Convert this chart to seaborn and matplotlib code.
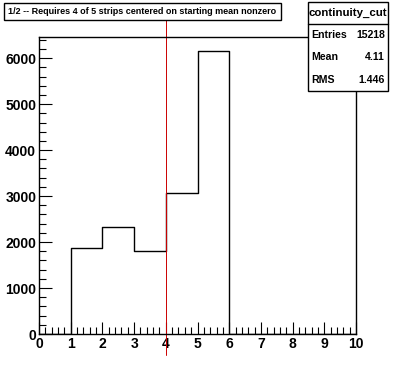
import numpy as np
import pandas as pd
import matplotlib
matplotlib.use('Agg')
import matplotlib.pyplot as plt
import seaborn as sns
from matplotlib.patches import Rectangle
from matplotlib.ticker import MultipleLocator

# ── Data ──────────────────────────────────────────────────────────────────────
bin_edges   = list(range(0, 11))
bin_centers = [1.5, 2.5, 3.5, 4.5, 5.5]
bin_counts  = [1867, 2331, 1802, 3066, 6152]
cut_value   = 4
title_text  = '1/2 -- Requires 4 of 5 strips centered on starting mean nonzero'
stats_name  = 'continuity_cut'
stats_rows  = [('Entries', '15218'), ('Mean', '4.11'), ('RMS', '1.446')]

df = pd.DataFrame({'x': bin_centers, 'w': bin_counts})

# ── Figure ────────────────────────────────────────────────────────────────────
sns.set_style('white')
plt.rcParams['font.family'] = ['Liberation Sans', 'DejaVu Sans']
plt.rcParams['text.color'] = 'black'

W, H = 396, 372
fig = plt.figure(figsize=(W / 100, H / 100), dpi=100)
ax = fig.add_axes([39 / W, 1 - 334 / H, (356 - 39) / W, (334 - 37) / H])

sns.histplot(data=df, x='x', weights='w', bins=bin_edges, element='step',
             fill=False, color='black', linewidth=1.0, ax=ax)

ymax = max(bin_counts) * 1.05
ax.set_xlim(0, 10)
ax.set_ylim(0, ymax)
ax.set_xlabel('')
ax.set_ylabel('')

ax.xaxis.set_major_locator(MultipleLocator(1))
ax.xaxis.set_minor_locator(MultipleLocator(0.2))
ax.yaxis.set_major_locator(MultipleLocator(1000))
ax.yaxis.set_minor_locator(MultipleLocator(200))
ax.tick_params(which='both', direction='in', top=False, right=False,
               bottom=True, left=True, color='black', labelcolor='black',
               width=0.8)
ax.tick_params(which='major', length=9, labelsize=10, pad=2)
ax.tick_params(which='minor', length=5)
for lab in ax.get_xticklabels() + ax.get_yticklabels():
    lab.set_fontweight('bold')

for s in ax.spines.values():
    s.set_color('black')
    s.set_linewidth(1.0)

# cut line
ax.axvline(cut_value, ymin=-0.072, ymax=1.1, color='#cc0000', lw=0.7,
           clip_on=False)

# ── Title box ─────────────────────────────────────────────────────────────────
def fx(px):
    return px / W

def fy(py):
    return 1 - py / H

fig.patches.append(Rectangle((fx(4), fy(20)), fx(281) - fx(4), fy(3) - fy(20),
                             transform=fig.transFigure, facecolor='white',
                             edgecolor='black', lw=1.0))
fig.text(fx(142.5), fy(11.5), title_text, ha='center', va='center',
         fontsize=6.5, fontweight='bold')

# ── Stats box ─────────────────────────────────────────────────────────────────
fig.patches.append(Rectangle((fx(308), fy(91)), fx(388) - fx(308), fy(2) - fy(91),
                             transform=fig.transFigure, facecolor='white',
                             edgecolor='black', lw=1.0))
fig.lines.append(plt.Line2D([fx(308), fx(388)], [fy(24), fy(24)],
                            transform=fig.transFigure, color='black', lw=1.0))
fig.text(fx(348), fy(13), stats_name, ha='center', va='center',
         fontsize=8.2, fontweight='bold')
for i, (name, val) in enumerate(stats_rows):
    yy = fy(35 + i * 22.5)
    fig.text(fx(311), yy, name, ha='left', va='center', fontsize=7.6,
             fontweight='bold')
    fig.text(fx(385), yy, val, ha='right', va='center', fontsize=7.6,
             fontweight='bold')

fig.savefig('out.png', dpi=100)
